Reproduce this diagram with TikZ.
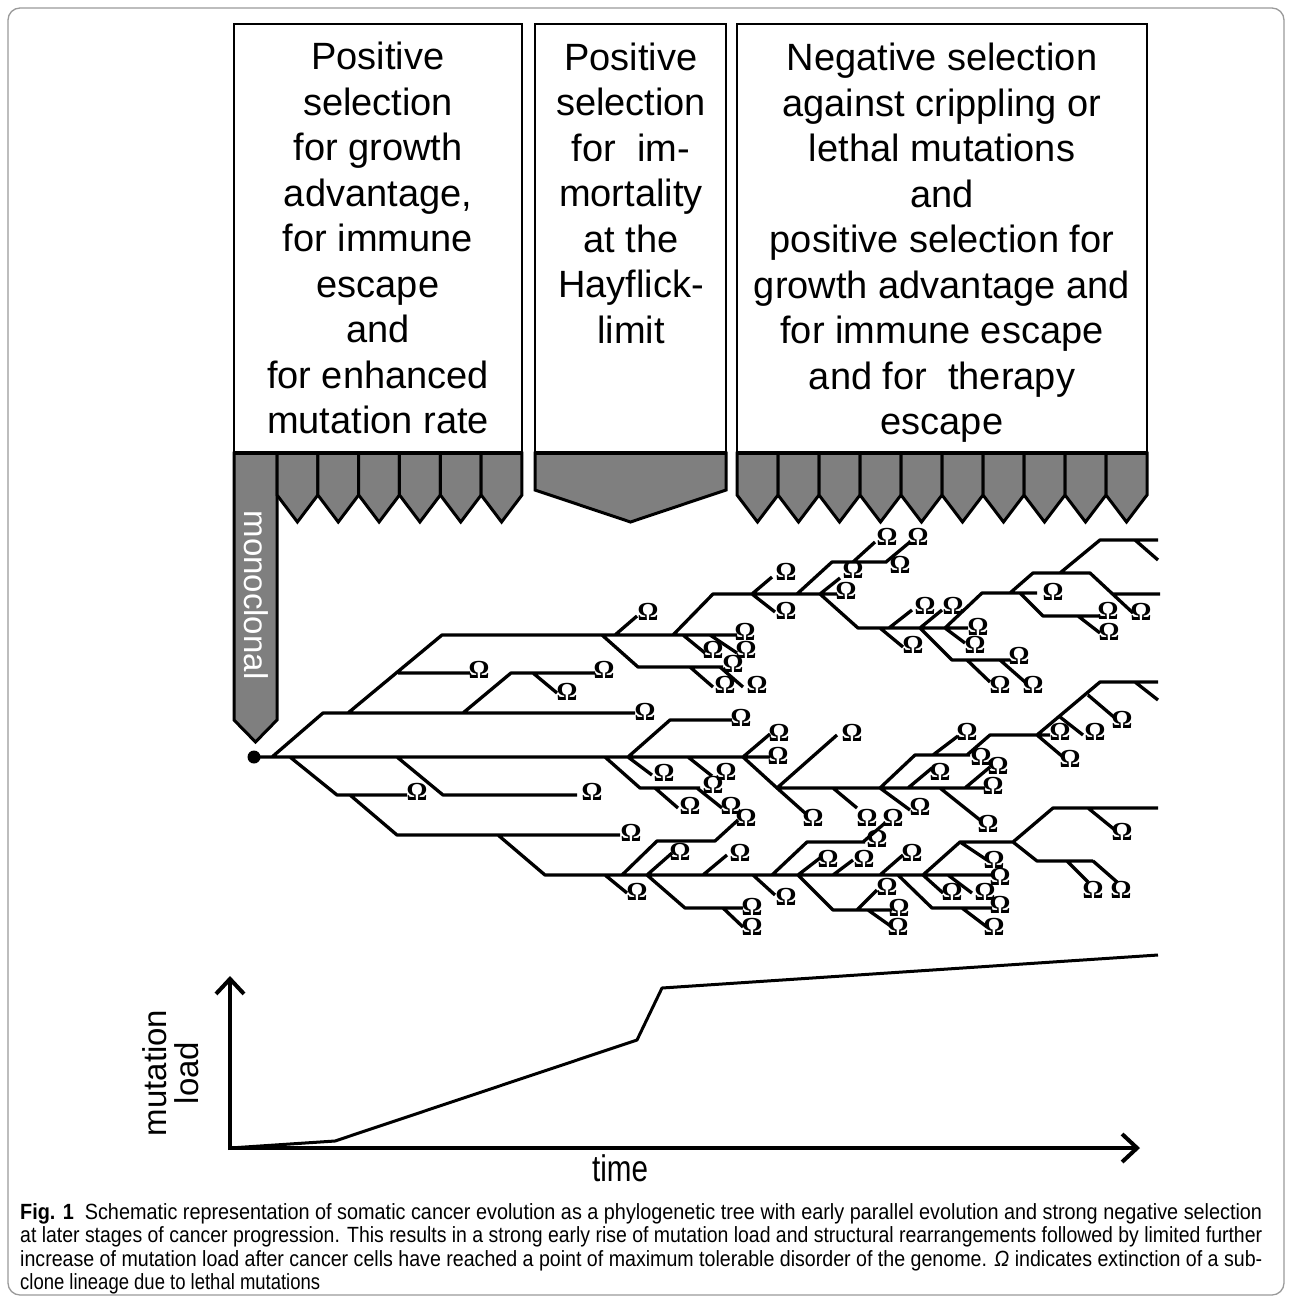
\documentclass[tikz,border=0pt]{standalone}
\usepackage{fontspec}
\usepackage{graphicx}
\setmainfont{Liberation Sans}
\newfontfamily\omfont{Liberation Serif}
\usetikzlibrary{arrows.meta}
\definecolor{bargray}{HTML}{7F7F7F}
\definecolor{framegray}{HTML}{9A9A9A}
\begin{document}
\begin{tikzpicture}[x=1pt,y=-1pt,
  tree/.style={line width=3.3pt, line join=round},
  om/.style={font=\omfont\bfseries\fontsize{26}{26}\selectfont, inner sep=0pt},
  boxframe/.style={draw, line width=1.5pt},
  tooth/.style={fill=bargray, draw=black, line width=3pt, line join=miter},
  boxtext/.style={align=center, font=\fontsize{38}{45.5}\selectfont, inner sep=0pt},
  axis/.style={line width=4pt, -{Straight Barb[length=15pt,width=28pt,line width=4pt]}},
  capfont/.style={font=\fontsize{22}{24}\selectfont, inner sep=0pt, anchor=base west}]
\useasboundingbox (0,0) rectangle (1292,1299);
\fill[white] (0,0) rectangle (1292,1299);
% outer frame
\draw[framegray, line width=1.3pt, rounded corners=12pt] (8,8) rectangle (1284,1295);

% boxes
\draw[boxframe] (234,24) rectangle (522,453);
\draw[boxframe] (535,24) rectangle (726,453);
\draw[boxframe] (737,24) rectangle (1147,453);

\node[boxtext] (t1) at (378,238) {Positive\\selection\\for growth\\advantage,\\for immune\\escape\\and\\for enhanced\\mutation rate};
\node[boxtext] (t2) at (631,193) {Positive\\selection\\for\ \ im-\\mortality\\at the\\Hayflick-\\limit};
\node[boxtext] (t3) at (942,243) {Negative selection\\against crippling or\\lethal mutations\\and\\positive selection for\\growth advantage and\\for immune escape\\and for\ \ therapy\\escape};

% monoclonal bar
\draw[tooth] (234,453) -- (277,453) -- (277,720) -- (255.5,742) -- (234,720) -- cycle;
\node[rotate=-90, text=white, font=\fontsize{33}{33}\selectfont, inner sep=0pt] (mono) at (256,595) {monoclonal};
% teeth box 1
\foreach \i in {0,...,5} {
  \pgfmathsetmacro\xa{277+\i*40.83}
  \draw[tooth] (\xa,453) -- ++(40.83,0) -- ++(0,42) -- ++(-20.415,27) -- ++(-20.415,-27) -- cycle;
}
% box 2 shape
\draw[tooth] (535,453) -- (726,453) -- (726,490) -- (630.5,522) -- (535,490) -- cycle;
% teeth box 3
\foreach \i in {0,...,9} {
  \pgfmathsetmacro\xa{737+\i*41}
  \draw[tooth] (\xa,453) -- ++(41,0) -- ++(0,42) -- ++(-20.5,27) -- ++(-20.5,-27) -- cycle;
}
% thick bottom lines of boxes
\draw[line width=4pt] (234,453) -- (522,453) (535,453) -- (726,453) (737,453) -- (1147,453);

% root
\node[circle, fill, inner sep=0pt, minimum size=13pt] (root) at (254,757) {};

% tree
\draw[tree]
 (254,757) -- (770,757)
 (272,757) -- (323,713) -- (635,713)
 (348,713) -- (442,635) -- (737,635)
 (398,673) -- (470,673)
 (463,713) -- (511,673) -- (595,673)
 (533,673) -- (557,693)
 (602,635) -- (638,667) -- (723,667)
 (615,635) -- (637,616)
 (673,635) -- (713,594) -- (837,594)
 (683,635) -- (705,653)
 (710,635) -- (737,653)
 (690,667) -- (713,687)
 (720,667) -- (743,687)
 (752,594) -- (772,577)
 (752,594) -- (775,612)
 (797,594) -- (832,562) -- (887,562)
 (820,594) -- (840,578)
 (820,594) -- (858,628) -- (968,628)
 (853,562) -- (875,542)
 (886,562) -- (910,542)
 (880,628) -- (903,647)
 (889,628) -- (912,610)
 (920,628) -- (942,610)
 (920,628) -- (952,660) -- (1010,660)
 (967,660) -- (990,682)
 (1000,660) -- (1025,682)
 (945,628) -- (982,593) -- (1037,593)
 (945,628) -- (965,643)
 (1010,593) -- (1033,573) -- (1090,573) -- (1133,613)
 (1113,594) -- (1160,594)
 (1060,573) -- (1100,540) -- (1158,540)
 (1135,540) -- (1158,560)
 (1020,593) -- (1043,616) -- (1100,616)
 (1078,616) -- (1100,633)
 (290,757) -- (337,795) -- (407,795)
 (350,795) -- (397,835) -- (620,835)
 (397,757) -- (443,795) -- (577,795)
 (498,835) -- (545,875) -- (992,875)
 (605,757) -- (640,788) -- (700,788)
 (655,788) -- (678,808)
 (697,788) -- (722,808)
 (628,757) -- (670,720) -- (732,720)
 (628,757) -- (652,775)
 (688,757) -- (712,776)
 (743,757) -- (770,734)
 (743,757) -- (777,788) -- (805,813)
 (777,788) -- (985,788)
 (777,788) -- (837,735)
 (833,788) -- (857,808)
 (880,788) -- (915,755) -- (970,755)
 (933,755) -- (958,736)
 (967,755) -- (990,735) -- (1050,735)
 (1037,735) -- (1100,682) -- (1158,682)
 (1037,735) -- (1063,757)
 (1060,717) -- (1083,735)
 (1088,695) -- (1115,718)
 (1135,682) -- (1158,700)
 (880,788) -- (910,810)
 (908,788) -- (932,768)
 (940,788) -- (980,820)
 (965,788) -- (990,767)
 (605,875) -- (627,893)
 (622,875) -- (657,841) -- (715,841) -- (738,820)
 (647,875) -- (672,853)
 (647,875) -- (685,908) -- (743,908)
 (723,908) -- (743,927)
 (703,875) -- (727,855)
 (753,875) -- (775,895)
 (772,875) -- (807,842) -- (865,842)
 (863,842) -- (885,823)
 (798,875) -- (820,858)
 (833,875) -- (853,860)
 (798,875) -- (833,910) -- (892,910)
 (857,910) -- (877,890)
 (868,910) -- (892,927)
 (880,875) -- (903,855)
 (898,875) -- (932,908) -- (992,908)
 (962,908) -- (987,927)
 (923,875) -- (960,842) -- (1013,842)
 (960,842) -- (987,860)
 (923,875) -- (943,893)
 (948,875) -- (972,893)
 (1013,842) -- (1053,808) -- (1158,808)
 (1088,808) -- (1115,830)
 (1013,842) -- (1037,861) -- (1093,861)
 (1067,861) -- (1088,882)
 (1093,861) -- (1117,882);

% extinction marks
\foreach \x/\y [count=\i] in {778/756, 645/712, 745/632, 479/670, 604/670, 567/692, 733/664, 648/612, 846/591, 713/650, 746/650, 725/685, 757/685, 786/572, 786/611, 900/565, 853/570, 978/627, 887/537, 918/537, 913/645, 925/606, 953/606, 1019/656, 1000/685, 1033/685, 1053/592, 975/645, 1141/612, 1108/611, 1109/632, 417/792, 631/833, 592/792, 1000/877, 713/785, 690/806, 731/806, 741/718, 664/773, 726/772, 779/733, 813/818, 993/786, 852/733, 867/818, 981/757, 967/732, 1060/732, 1070/759, 1095/732, 1122/720, 920/807, 940/772, 988/824, 998/766, 637/892, 746/818, 680/852, 752/907, 752/927, 740/853, 786/897, 877/839, 893/818, 828/859, 864/859, 899/908, 887/887, 898/927, 912/853, 1000/905, 994/927, 994/860, 952/892, 985/892, 1122/832, 1093/890, 1121/890}
  \node[om] (om\i) at (\x,\y) {Ω};

% graph
\draw[axis] (230,1150) -- (230,976);
\draw[axis] (228,1148) -- (1140,1148);
\draw[line width=3pt, line join=round] (230,1148) -- (335,1141) -- (637,1040) -- (662,988) -- (1158,955);
\node[rotate=90, align=center, font=\fontsize{33}{32}\selectfont, inner sep=0pt] (ylab) at (171,1073) {mutation\\load};
\node[font=\fontsize{37}{37}\selectfont, inner sep=0pt, xscale=0.8] (xlab) at (620,1168) {time};

% caption
\node[capfont] (c1) at (20,1219) {\resizebox{1242pt}{\height}{\textbf{Fig. 1}\ \ Schematic representation of somatic cancer evolution as a phylogenetic tree with early parallel evolution and strong negative selection}};
\node[capfont] (c2) at (20,1242.5) {\resizebox{1242pt}{\height}{at later stages of cancer progression. This results in a strong early rise of mutation load and structural rearrangements followed by limited further}};
\node[capfont] (c3) at (20,1266) {\resizebox{1242pt}{\height}{increase of mutation load after cancer cells have reached a point of maximum tolerable disorder of the genome. \textit{Ω} indicates extinction of a sub-}};
\node[capfont] (c4) at (20,1289.5) {\scalebox{0.84}[1]{clone lineage due to lethal mutations}};
\end{tikzpicture}
\end{document}
